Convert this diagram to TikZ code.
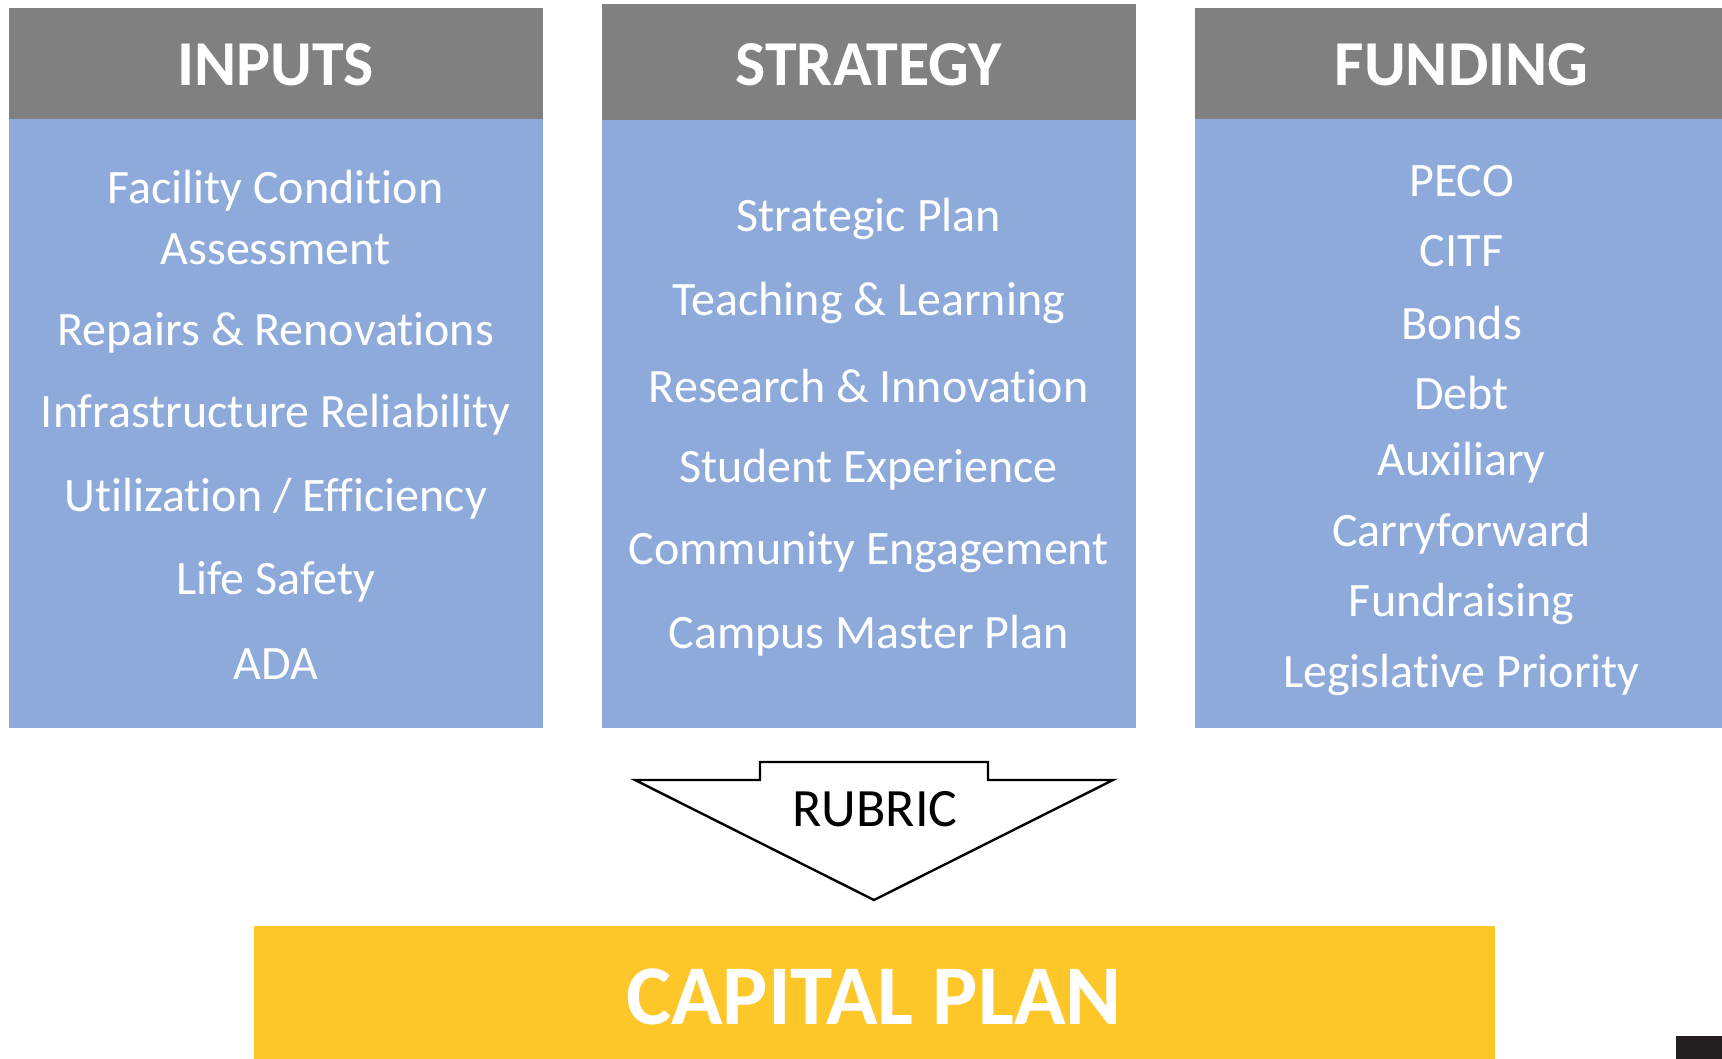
\documentclass[tikz,border=0pt]{standalone}
\usepackage{fontspec}
\setmainfont{Carlito}[Ligatures=NoCommon]
\definecolor{hdrgray}{HTML}{808080}
\definecolor{bodyblue}{HTML}{8EAADB}
\definecolor{planyellow}{HTML}{FDC72A}
\definecolor{cornerblack}{HTML}{231F20}
\begin{document}
\begin{tikzpicture}[x=1pt,y=-1pt,
  hdr/.style={fill=hdrgray,draw=none},
  bodybox/.style={fill=bodyblue,draw=none},
  hdrtext/.style={text=white,font=\fontsize{64}{68}\selectfont\bfseries,inner sep=0pt},
  item/.style={text=white,font=\fontsize{48}{52}\selectfont,inner sep=0pt,yshift=-3pt},
]
\useasboundingbox (0,0) rectangle (1722,1059);

% column panels
\fill[hdr] (8.8,7.7) rectangle (542.5,118.6);
\fill[bodybox] (8.8,118.6) rectangle (542.5,728.1);
\fill[hdr] (601.8,4.4) rectangle (1135.5,119.7);
\fill[bodybox] (601.8,119.7) rectangle (1135.5,728.1);
\fill[hdr] (1194.8,7.7) rectangle (1722,118.6);
\fill[bodybox] (1194.8,118.6) rectangle (1722,728.1);

% headers
\node[hdrtext] (hin) at (275.6,65) {INPUTS};
\node[hdrtext] (hst) at (868.7,65) {STRATEGY};
\node[hdrtext] (hfu) at (1461.5,65) {FUNDING};

% inputs
\node[item] (i1) at (275.6,187.8) {Facility Condition};
\node[item] (i2) at (275.6,246.0) {Assessment};
\node[item] (i3) at (275.6,329.5) {Repairs \& Renovations};
\node[item] (i4) at (275.6,411.8) {Infrastructure Reliability};
\node[item] (i5) at (275.6,495.3) {Utilization / Efficiency};
\node[item] (i6) at (275.6,578.8) {Life Safety};
\node[item] (i7) at (275.6,661.1) {ADA};

% strategy
\node[item] (s1) at (868.7,216.3) {Strategic Plan};
\node[item] (s2) at (868.7,299.8) {Teaching \& Learning};
\node[item] (s3) at (868.7,383.3) {Research \& Innovation};
\node[item] (s4) at (868.7,466.7) {Student Experience};
\node[item] (s5) at (868.7,549.1) {Community Engagement};
\node[item] (s6) at (868.7,632.6) {Campus Master Plan};

% funding
\node[item] (f1) at (1461.5,177.9) {PECO};
\node[item] (f2) at (1461.5,248.2) {CITF};
\node[item] (f3) at (1461.5,319.6) {Bonds};
\node[item] (f4) at (1461.5,389.9) {Debt};
\node[item] (f5) at (1461.5,460.1) {Auxiliary};
\node[item] (f6) at (1461.5,530.4) {Carryforward};
\node[item] (f7) at (1461.5,600.7) {Fundraising};
\node[item] (f8) at (1461.5,672.1) {Legislative Priority};

% rubric arrow
\draw[line width=2.4pt,line join=miter,fill=white]
  (760,762) -- (988,762) -- (988,780) -- (1113,780) -- (874,900)
  -- (635,780) -- (760,780) -- cycle;
\node[inner sep=0pt,font=\fontsize{54}{58}\selectfont] (rub) at (875,809) {RUBRIC};

% capital plan bar
\fill[planyellow] (254,926) rectangle (1495,1059);
\node[text=white,inner sep=0pt,font=\fontsize{85}{90}\selectfont\bfseries] (cap) at (874,997) {CAPITAL PLAN};

% corner block
\fill[cornerblack] (1676,1036) rectangle (1722,1059);
\end{tikzpicture}
\end{document}
